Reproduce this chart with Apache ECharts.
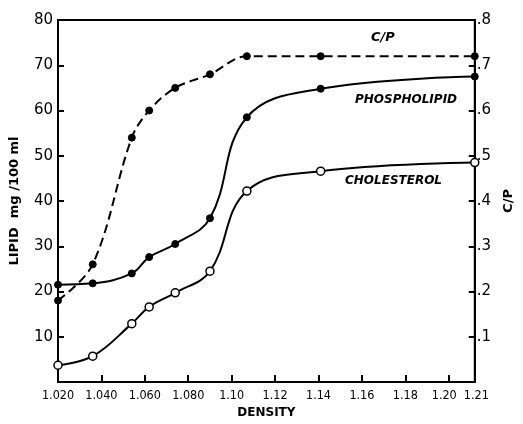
<!DOCTYPE html>
<html><head><meta charset="utf-8">
<script src="https://cdn.jsdelivr.net/npm/echarts@6/dist/echarts.min.js"></script>
<style>html,body{margin:0;padding:0;background:#fff}#c{width:523px;height:424px}</style>
</head><body><div id="c"></div>
<script>
// Density (x) for each measured fraction
const density = [1.020, 1.036, 1.054, 1.062, 1.074, 1.090, 1.107, 1.141, 1.212];
// Lipid mg/100 ml
const phospholipid = [21.5, 21.8, 24.0, 27.6, 30.5, 36.2, 58.5, 64.8, 67.5];
const cholesterol  = [3.7, 5.7, 12.9, 16.6, 19.7, 24.5, 42.2, 46.6, 48.5];
// C/P ratio (right axis)
const cpRatio      = [0.18, 0.26, 0.54, 0.60, 0.65, 0.68, 0.72, 0.72, 0.72];

const xTickValues = [1.02, 1.04, 1.06, 1.08, 1.10, 1.12, 1.14, 1.16, 1.18, 1.20];
const xTickLabels = ['1.020','1.040','1.060','1.080','1.10','1.12','1.14','1.16','1.18','1.20'];
const xEndValue = 1.212;
const xEndLabel = '1.21';
const yLeftLabels = ['', '10', '20', '30', '40', '50', '60', '70', '80'];
const yRightLabels = ['', '.1', '.2', '.3', '.4', '.5', '.6', '.7', '.8'];

const pair = (xs, ys) => xs.map((x, i) => [x, ys[i]]);
const FONT = '"DejaVu Sans Condensed",sans-serif';
const labelBase = { color: '#000', fontFamily: FONT, fontSize: 12.5, margin: 7 };
const richText = { color: '#000', fontFamily: FONT, fontSize: 12.5 };

const chart = echarts.init(document.getElementById('c'));
chart.setOption({
  animation: false,
  backgroundColor: '#fff',
  grid: { left: 57, right: 36, top: 20, bottom: 38, show: true, borderColor: '#000', borderWidth: 2 },
  xAxis: [{
    type: 'value', min: 1.02, max: xEndValue, interval: 0.02, position: 'bottom',
    axisLine: { show: false },
    axisTick: { inside: true, length: 7, lineStyle: { color: '#000', width: 2 } },
    splitLine: { show: false },
    axisLabel: Object.assign({}, labelBase, { showMaxLabel: false, showMinLabel: true, interval: 0,
      rich: { shiftL: Object.assign({ padding: [0, 9, 0, 0] }, richText) },
      formatter: v => {
        const i = xTickValues.findIndex(t => Math.abs(t - v) < 0.001);
        if (i < 0) return '';
        return i === xTickValues.length - 1 ? '{shiftL|' + xTickLabels[i] + '}' : xTickLabels[i];
      } })
  }, {
    type: 'value', min: 1.02, max: xEndValue, interval: xEndValue - 1.02, position: 'bottom',
    name: 'DENSITY', nameLocation: 'middle', nameGap: 25,
    nameTextStyle: { color: '#000', fontFamily: 'DejaVu Sans', fontWeight: 'bold', fontSize: 12 },
    axisLine: { lineStyle: { color: '#000', width: 2 } },
    axisTick: { show: false },
    splitLine: { show: false },
    axisLabel: Object.assign({}, labelBase, { showMaxLabel: true, showMinLabel: false,
      rich: { shiftR: Object.assign({ padding: [0, 0, 0, 3] }, richText) },
      formatter: v => Math.abs(v - xEndValue) < 0.001 ? '{shiftR|' + xEndLabel + '}' : '' })
  }],
  yAxis: [{
    type: 'value', min: 0, max: 80, interval: 10,
    name: 'LIPID  mg /100 ml', nameLocation: 'middle', nameGap: 37, nameRotate: 90,
    nameTextStyle: { color: '#000', fontFamily: 'DejaVu Sans', fontWeight: 'bold', fontSize: 13 },
    axisLine: { show: true, lineStyle: { color: '#000', width: 2 } },
    axisTick: { inside: true, length: 6, lineStyle: { color: '#000', width: 2 } },
    splitLine: { show: false },
    axisLabel: { color: '#000', fontFamily: 'DejaVu Sans', fontSize: 15, margin: 5,
      formatter: v => yLeftLabels[Math.round(v / 10)] }
  }, {
    type: 'value', min: 0, max: 0.8, interval: 0.1, position: 'right',
    name: 'C/P', nameLocation: 'middle', nameGap: 25, nameRotate: 90,
    nameTextStyle: { color: '#000', fontFamily: 'DejaVu Sans', fontWeight: 'bold', fontSize: 13 },
    axisLine: { show: true, lineStyle: { color: '#000', width: 2 } },
    axisTick: { inside: true, length: 6, lineStyle: { color: '#000', width: 2 } },
    splitLine: { show: false },
    axisLabel: { color: '#000', fontFamily: 'DejaVu Sans', fontSize: 15, margin: 2,
      formatter: v => yRightLabels[Math.round(v * 10)] }
  }],
  series: [{
    type: 'line', name: 'C/P', xAxisIndex: 1, yAxisIndex: 1, data: pair(density, cpRatio),
    smooth: 0.35,
    lineStyle: { color: '#000', width: 2, type: [9, 5] },
    symbol: 'circle', symbolSize: 7, itemStyle: { color: '#000', borderColor: '#000' }
  }, {
    type: 'line', name: 'PHOSPHOLIPID', xAxisIndex: 1, data: pair(density, phospholipid),
    smooth: 0.4,
    lineStyle: { color: '#000', width: 2 },
    symbol: 'circle', symbolSize: 7, itemStyle: { color: '#000', borderColor: '#000' }
  }, {
    type: 'line', name: 'CHOLESTEROL', xAxisIndex: 1, data: pair(density, cholesterol),
    smooth: 0.4,
    lineStyle: { color: '#000', width: 2 },
    symbol: 'circle', symbolSize: 8, itemStyle: { color: '#fff', borderColor: '#000', borderWidth: 1.5 }
  }],
  graphic: [
    { type: 'text', left: 371, top: 31, style: { text: 'C/P', fill: '#000', font: 'italic bold 13px "DejaVu Sans"' } },
    { type: 'text', left: 355, top: 94, style: { text: 'PHOSPHOLIPID', fill: '#000', font: 'italic bold 12px "DejaVu Sans"' } },
    { type: 'text', left: 345, top: 175, style: { text: 'CHOLESTEROL', fill: '#000', font: 'italic bold 12px "DejaVu Sans"' } }
  ]
});
</script></body></html>
